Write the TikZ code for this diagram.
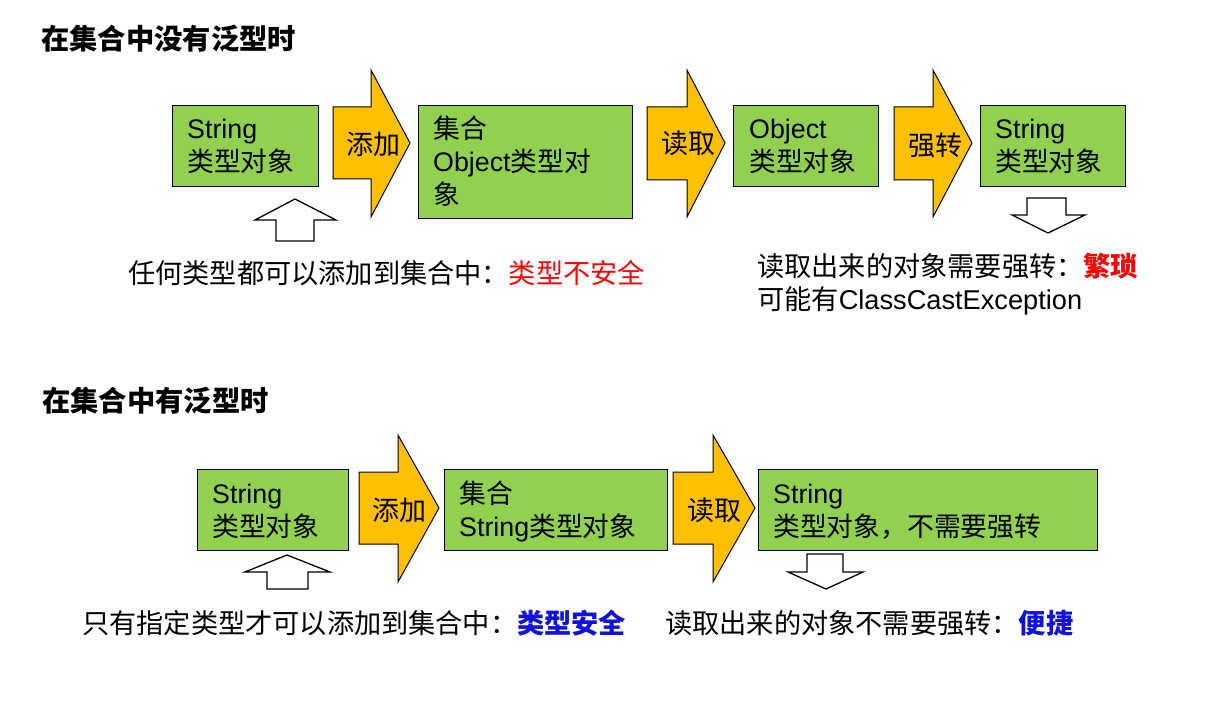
\documentclass[tikz,border=0pt]{standalone}
\usepackage{fontspec}
\setmainfont{Liberation Sans}
\newfontfamily\cjk{Noto Sans CJK SC}
\definecolor{boxgreen}{HTML}{92D050}
\definecolor{arroworange}{HTML}{FFC000}
\definecolor{warnred}{HTML}{FF0000}
\definecolor{okblue}{HTML}{1010E0}
\tikzset{
  greenbox/.style={draw=black, line width=1.2pt, fill=boxgreen, anchor=north west, inner sep=0},
  blockarrow/.style={draw=black, line width=1pt, fill=arroworange, line join=miter},
  hollow/.style={draw=black, line width=1.3pt, fill=white, line join=miter},
  txt/.style={anchor=base west, inner sep=0, font=\fontsize{26.8}{30}\selectfont},
  lbl/.style={anchor=base, inner sep=0, font=\fontsize{27}{30}\selectfont\cjk},
  note/.style={anchor=base west, inner sep=0, font=\fontsize{27.2}{30}\selectfont\cjk},
  ttl/.style={anchor=base west, inner sep=0, font=\fontsize{28.3}{30}\selectfont\cjk\bfseries}
}
\begin{document}
\begin{tikzpicture}[x=1pt,y=-1pt]
\useasboundingbox (0,0) rectangle (1227,703);
\fill[white] (0,0) rectangle (1227,703);

% ---------- Row 1 ----------
\node[ttl] (t1) at (41,50) {在集合中没有泛型时};

\node[greenbox, minimum width=146, minimum height=81] (a1) at (172,105) {};
\node[greenbox, minimum width=214, minimum height=113] (b1) at (418,105) {};
\node[greenbox, minimum width=145, minimum height=81] (c1) at (733,105) {};
\node[greenbox, minimum width=145, minimum height=81] (d1) at (980,105) {};

\draw[blockarrow] (333,107) -- (371,107) -- (371,70) -- (410,143) -- (371,217) -- (371,179) -- (333,179) -- cycle;
\draw[blockarrow] (647,107) -- (687,107) -- (687,70) -- (725,143) -- (687,217) -- (687,180) -- (647,180) -- cycle;
\draw[blockarrow] (894,107) -- (933,107) -- (933,70) -- (972,143) -- (933,217) -- (933,180) -- (894,180) -- cycle;

\node[lbl] (l1) at (373,155) {添加};
\node[lbl] (l2) at (688,154) {读取};
\node[lbl] (l3) at (935,156) {强转};

\node[txt] (a1t1) at (187,139) {String};
\node[txt] (a1t2) at (187,172) {\cjk 类型对象};
\node[txt] (b1t1) at (433,139) {\cjk 集合};
\node[txt] (b1t2) at (433,172) {Object{\cjk 类型对}};
\node[txt] (b1t3) at (433,205) {\cjk 象};
\node[txt] (c1t1) at (749,139) {Object};
\node[txt] (c1t2) at (749,172) {\cjk 类型对象};
\node[txt] (d1t1) at (995,139) {String};
\node[txt] (d1t2) at (995,172) {\cjk 类型对象};

\draw[hollow] (295,199) -- (336,220) -- (314,220) -- (314,241) -- (276,241) -- (276,220) -- (255,220) -- cycle;
\draw[hollow] (1027,198) -- (1066,198) -- (1066,215) -- (1085,215) -- (1048,233) -- (1012,215) -- (1027,215) -- cycle;

\node[note] (n1) at (128,284) {任何类型都可以添加到集合中：\textcolor{warnred}{类型不安全}};
\node[note] (n2) at (757,277) {读取出来的对象需要强转：\textcolor{warnred}{\bfseries 繁琐}};
\node[note] (n3) at (757,310) {可能有{\fontspec{Liberation Sans}ClassCastException}};

% ---------- Row 2 ----------
\node[ttl] (t2) at (42,412) {在集合中有泛型时};

\node[greenbox, minimum width=151, minimum height=81] (a2) at (197,469) {};
\node[greenbox, minimum width=223, minimum height=81] (b2) at (444,469) {};
\node[greenbox, minimum width=339, minimum height=81] (c2) at (758,469) {};

\draw[blockarrow] (359,472) -- (398,472) -- (398,435) -- (439,508) -- (398,582) -- (398,544) -- (359,544) -- cycle;
\draw[blockarrow] (673,472) -- (713,472) -- (713,435) -- (755,508) -- (713,582) -- (713,544) -- (673,544) -- cycle;

\node[lbl] (l4) at (399,520) {添加};
\node[lbl] (l5) at (714,520) {读取};

\node[txt] (a2t1) at (212,503) {String};
\node[txt] (a2t2) at (212,536) {\cjk 类型对象};
\node[txt] (b2t1) at (459,503) {\cjk 集合};
\node[txt] (b2t2) at (459,536) {String{\cjk 类型对象}};
\node[txt] (c2t1) at (773,503) {String};
\node[txt] (c2t2) at (773,536) {\cjk 类型对象，不需要强转};

\draw[hollow] (287,555) -- (330,572) -- (308,572) -- (308,589) -- (267,589) -- (267,572) -- (245,572) -- cycle;
\draw[hollow] (807,554) -- (843,554) -- (843,572) -- (863,572) -- (826,589) -- (788,572) -- (807,572) -- cycle;

\node[note] (n4) at (82,633) {只有指定类型才可以添加到集合中：\textcolor{okblue}{\bfseries 类型安全}};
\node[note] (n5) at (665,633) {读取出来的对象不需要强转：\textcolor{okblue}{\bfseries 便捷}};
\end{tikzpicture}
\end{document}
